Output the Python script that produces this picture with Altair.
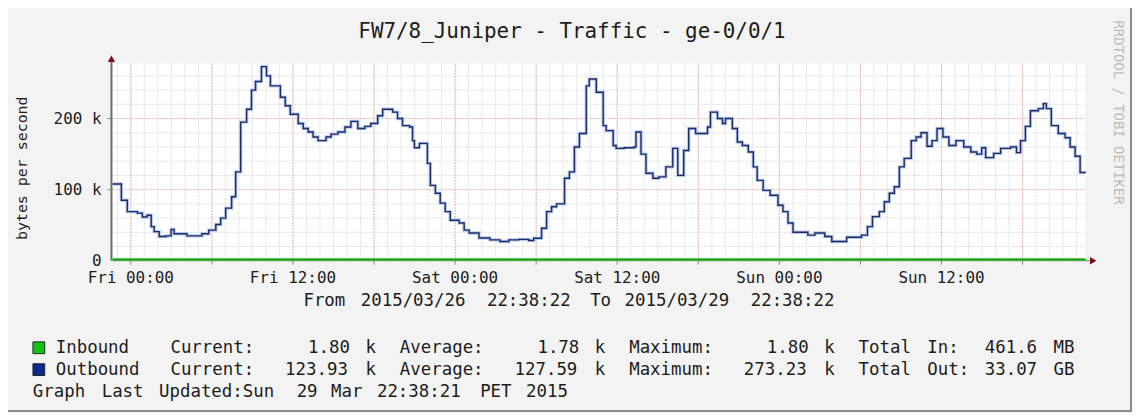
import re
import altair as alt
import pandas as pd

# ---------------- data ----------------
START = "2015-03-26 22:38:22"
END = "2015-03-29 22:38:22"

# Outbound (bytes/s, in k): step start (hours after START) and value
out_hours = [0.00, 0.66, 1.10, 1.84, 2.21, 2.57, 2.87, 3.09, 3.46, 3.97, 4.34, 4.56,
             5.51, 6.62, 7.13, 7.65, 8.01, 8.38, 8.82, 9.12, 9.49, 9.93, 10.29, 10.59,
             11.03, 11.40, 11.69, 12.43, 12.79, 13.16, 13.75, 14.12, 14.49, 14.85, 15.22,
             15.81, 16.18, 16.69, 17.21, 17.65, 18.16, 18.68, 19.12, 19.63, 20.00, 20.74,
             21.10, 21.47, 21.99, 22.21, 22.35, 22.72, 23.31, 23.53, 23.90, 24.26, 24.63,
             25.00, 25.66, 26.03, 26.40, 27.13, 27.94, 28.68, 29.34, 30.07, 30.81, 31.18,
             31.76, 32.13, 32.50, 32.87, 33.46, 33.82, 34.19, 34.56, 35.07, 35.29, 35.81,
             36.32, 36.54, 37.06, 37.28, 37.87, 38.60, 38.75, 39.12, 39.49, 40.00, 40.44,
             40.96, 41.47, 41.84, 42.28, 42.65, 43.16, 44.04, 44.26, 44.78, 45.15, 45.37,
             45.88, 46.25, 46.62, 47.06, 47.43, 47.72, 48.16, 48.68, 49.26, 49.63, 50.00,
             50.37, 51.47, 51.99, 52.72, 53.24, 54.34, 55.44, 55.88, 56.25, 56.76, 57.13,
             57.50, 57.87, 58.24, 58.60, 59.12, 59.49, 59.85, 60.29, 60.66, 61.03, 61.47,
             61.91, 62.43, 63.01, 63.53, 63.97, 64.34, 64.63, 65.22, 65.74, 66.47, 66.91,
             67.21, 67.57, 67.94, 68.53, 68.90, 69.12, 69.49, 70.00, 70.51, 70.88, 71.25,
             71.62, 72.00]
out_k = [108, 85, 69, 67, 61.5, 64, 48, 41, 34, 35, 44, 38,
         35, 38, 43, 51, 60, 74, 90, 125, 195, 213, 240, 252,
         273, 260, 246, 230, 218, 206, 193, 186, 181, 174, 169,
         174, 178, 181, 188, 196, 186, 189, 193, 204, 213, 209,
         200, 190, 188, 169, 159, 165, 137, 106, 95, 81, 69,
         57, 53, 43, 39, 32, 29.4, 27, 29.4, 30, 28.5, 31.7,
         45.7, 69, 76, 80, 116, 125, 160, 179, 246, 255.5, 237,
         190, 183, 162, 158, 159, 160, 181, 150, 123, 116, 118,
         132, 158, 120, 155, 186, 179, 188, 209, 200, 193, 200,
         186, 167, 162, 153, 132, 113, 99, 92, 78, 69, 53,
         40, 36, 39, 34, 27, 33, 36, 48, 62, 69, 83,
         95, 104, 132, 144, 169, 174, 180, 161, 169, 186, 174,
         162, 169, 160, 153, 150, 159, 145, 151, 158, 160, 152,
         169, 189, 211, 214, 221, 214, 190, 179, 173, 160, 147,
         124, 123.93]

# Inbound (bytes/s, in k)
in_hours = [0, 12, 24, 36, 48, 60, 72]
in_k = [1.77, 1.78, 1.77, 1.79, 1.78, 1.79, 1.80]

# axis ticks / labels
x_label_times = ["2015-03-27 00:00", "2015-03-27 12:00", "2015-03-28 00:00",
                 "2015-03-28 12:00", "2015-03-29 00:00", "2015-03-29 12:00"]
x_labels = ["Fri 00:00", "Fri 12:00", "Sat 00:00", "Sat 12:00", "Sun 00:00", "Sun 12:00"]
y_label_vals = [0, 100000, 200000]
y_labels = ["0\u00a0", "100 k", "200 k"]
y_minor = [20000, 40000, 60000, 80000, 120000, 140000, 160000, 180000,
           220000, 240000, 260000]
y_major = [100000, 200000]
Y_MAX = 277000

TITLE = "FW7/8_Juniper - Traffic - ge-0/0/1"
Y_TITLE = "bytes per second"
CREDIT = "RRDTOOL / TOBI OETIKER"
FROM_LINE = "From 2015/03/26 22:38:22 To 2015/03/29 22:38:22"
LEGEND_ROWS = [
    "Inbound   Current:    1.80 k  Average:    1.78 k  Maximum:    1.80 k  Total In:  461.6 MB",
    "Outbound  Current:  123.93 k  Average:  127.59 k  Maximum:  273.23 k  Total Out: 33.07 GB",
    "Graph Last Updated:Sun 29 Mar 22:38:21 PET 2015",
]
LEGEND_COLORS = ["#12c312", "#0a2a8c"]

# ---------------- build tables ----------------
t0 = pd.Timestamp(START)


def iso(ts):
    return pd.Timestamp(ts).strftime("%Y-%m-%dT%H:%M:%SZ")


def dt(ts):
    ts = pd.Timestamp(ts)
    return alt.DateTime(year=ts.year, month=ts.month, date=ts.day,
                        hours=ts.hour, minutes=ts.minute, seconds=ts.second, utc=True)


out_df = pd.DataFrame({
    "t": [iso(t0 + pd.Timedelta(hours=h)) for h in out_hours],
    "v": [k * 1000 for k in out_k],
})
in_df = pd.DataFrame({
    "t": [iso(t0 + pd.Timedelta(hours=h)) for h in in_hours],
    "v": [k * 1000 for k in in_k],
})

hours_minor = pd.date_range("2015-03-26 23:00", "2015-03-29 22:00", freq="h")
hours_major = pd.date_range("2015-03-27 00:00", "2015-03-29 18:00", freq="6h")
vminor_df = pd.DataFrame({"t": [iso(t) for t in hours_minor]})
vmajor_df = pd.DataFrame({"t": [iso(t) for t in hours_major]})
hminor_df = pd.DataFrame({"v": y_minor})
hmajor_df = pd.DataFrame({"v": y_major})
xlab_df = pd.DataFrame({"t": [iso(t) for t in x_label_times], "lab": x_labels})
ylab_df = pd.DataFrame({"v": y_label_vals, "lab": y_labels})

xs = alt.Scale(type="utc", domain=[dt(START), dt(END)])
ys = alt.Scale(domain=[0, Y_MAX], nice=False, zero=True)

MONO = "DejaVu Sans Mono"
TXT = "#1c1c1c"
GRID_MINOR = "#e0e0e0"
GRID_MAJOR = "#efb5b5"
TICK = "#8a8a8a"

# plot area: ref x 113..1091, y 63..261 ; page offset 8
PX0, PY0 = 113, 63
W, H = 978, 198
CW = 11.53  # character pitch of the legend lines


def tokens(line, x_ref, y_ref):
    return [{"px": x_ref - PX0 + m.start() * CW, "py": y_ref - PY0, "txt": m.group()}
            for m in re.finditer(r"\S+", line)]


legend_tok = []
for row, yb in zip(LEGEND_ROWS, [354, 376, 398]):
    x_start = 56 if not row.startswith("Graph") else 33
    legend_tok += tokens(row, x_start, yb)
legend_tok += tokens(FROM_LINE, 305, 307)
tok_df = pd.DataFrame(legend_tok)

one = pd.DataFrame({"a": [0]})

X = lambda: alt.X("t:T", scale=xs, axis=None)
Y = lambda: alt.Y("v:Q", scale=ys, axis=None)

# ---------------- layers ----------------
vminor = alt.Chart(vminor_df).mark_rule(color=GRID_MINOR, strokeWidth=1, strokeDash=[2, 1]).encode(
    x=X(), y=alt.value(0), y2=alt.value(H))
vmajor = alt.Chart(vmajor_df).mark_rule(color=GRID_MAJOR, strokeWidth=1, strokeDash=[2, 1]).encode(
    x=X(), y=alt.value(0), y2=alt.value(H))
hminor = alt.Chart(hminor_df).mark_rule(color=GRID_MINOR, strokeWidth=1, strokeDash=[2, 1]).encode(
    y=Y(), x=alt.value(0), x2=alt.value(W))
hmajor = alt.Chart(hmajor_df).mark_rule(color=GRID_MAJOR, strokeWidth=1, strokeDash=[2, 1]).encode(
    y=Y(), x=alt.value(0), x2=alt.value(W))

xticks = alt.Chart(vmajor_df).mark_rule(color=TICK, strokeWidth=1).encode(
    x=X(), y=alt.value(H), y2=alt.value(H + 4))
yticks = alt.Chart(hmajor_df).mark_rule(color=TICK, strokeWidth=1).encode(
    y=Y(), x=alt.value(-5), x2=alt.value(0))

xlabels = alt.Chart(xlab_df).mark_text(font=MONO, fontSize=16, color=TXT, align="center",
                                       baseline="alphabetic").encode(
    x=X(), y=alt.value(220), text="lab:N")
ylabels = alt.Chart(ylab_df).mark_text(font=MONO, fontSize=16, color=TXT, align="right",
                                       baseline="middle").encode(
    y=Y(), x=alt.value(-11), text="lab:N")

x_axis_line = alt.Chart(one).mark_rule(color="#8a8a8a", strokeWidth=1).encode(
    x=alt.value(0), x2=alt.value(984), y=alt.value(H))
y_axis_line = alt.Chart(one).mark_rule(color="#6e6e6e", strokeWidth=2).encode(
    x=alt.value(-1), y=alt.value(-4), y2=alt.value(H))
arrow_up = alt.Chart(one).mark_point(shape="triangle-up", filled=True, size=55,
                                     color="#7a1414", opacity=1).encode(
    x=alt.value(-1), y=alt.value(-5))
arrow_right = alt.Chart(one).mark_point(shape="triangle-right", filled=True, size=55,
                                        color="#7a1414", opacity=1).encode(
    x=alt.value(986), y=alt.value(H))

inbound = alt.Chart(in_df).mark_line(color="#1faa1f", strokeWidth=2.6,
                                     interpolate="step-after").encode(x=X(), y=Y())
halo = alt.Chart(out_df).mark_line(color="#a9bde3", strokeWidth=3.4, opacity=0.8,
                                   interpolate="step-after").encode(x=X(), y=Y())
outbound = alt.Chart(out_df).mark_line(color="#1b2c6b", strokeWidth=1.4,
                                       interpolate="step-after").encode(x=X(), y=Y())

title = alt.Chart(one).mark_text(font=MONO, fontSize=21, color=TXT, align="center",
                                 baseline="alphabetic").encode(
    x=alt.value(575 - PX0), y=alt.value(37 - PY0), text=alt.value(TITLE))
ytitle = alt.Chart(one).mark_text(font=MONO, fontSize=15, color=TXT, align="center",
                                  baseline="middle", angle=270).encode(
    x=alt.value(22 - PX0), y=alt.value(168 - PY0), text=alt.value(Y_TITLE))
credit = alt.Chart(one).mark_text(font=MONO, fontSize=14, color="#bcbcbc",
                                  align="center", baseline="middle", angle=90).encode(
    x=alt.value(1124 - PX0), y=alt.value(112 - PY0), text=alt.value(CREDIT))

tok_text = alt.Chart(tok_df).mark_text(font=MONO, fontSize=17.5, color=TXT, align="left",
                                       baseline="alphabetic").encode(
    x=alt.X("px:Q", scale=None, axis=None), y=alt.Y("py:Q", scale=None, axis=None),
    text="txt:N")

swatch_df = pd.DataFrame({"sx": [39 - PX0, 39 - PX0], "sy": [348.5 - PY0, 370.5 - PY0],
                          "c": LEGEND_COLORS})
swatches = alt.Chart(swatch_df).mark_square(size=140, opacity=1, stroke="#222",
                                            strokeWidth=1).encode(
    x=alt.X("sx:Q", scale=None, axis=None), y=alt.Y("sy:Q", scale=None, axis=None),
    fill=alt.Fill("c:N", scale=None, legend=None))

border = alt.Chart(one).mark_rect(fillOpacity=0, stroke="#8c8c8c", strokeWidth=2).encode(
    x=alt.value(-110), x2=alt.value(1129 - 105), y=alt.value(-60), y2=alt.value(404 - 55))

chart = alt.layer(
    vminor, hminor, vmajor, hmajor, xticks, yticks, x_axis_line, y_axis_line,
    inbound, halo, outbound, arrow_up, arrow_right,
    xlabels, ylabels, title, ytitle, credit, tok_text, swatches, border,
).properties(
    width=W, height=H,
    padding={"left": 105, "top": 55, "right": 47, "bottom": 152},
    autosize=alt.AutoSizeParams(type="none"),
    background="#f3f3f3",
).configure_view(fill="white", strokeWidth=0)

chart.save("out.html", embed_options={"renderer": "svg", "actions": False})
